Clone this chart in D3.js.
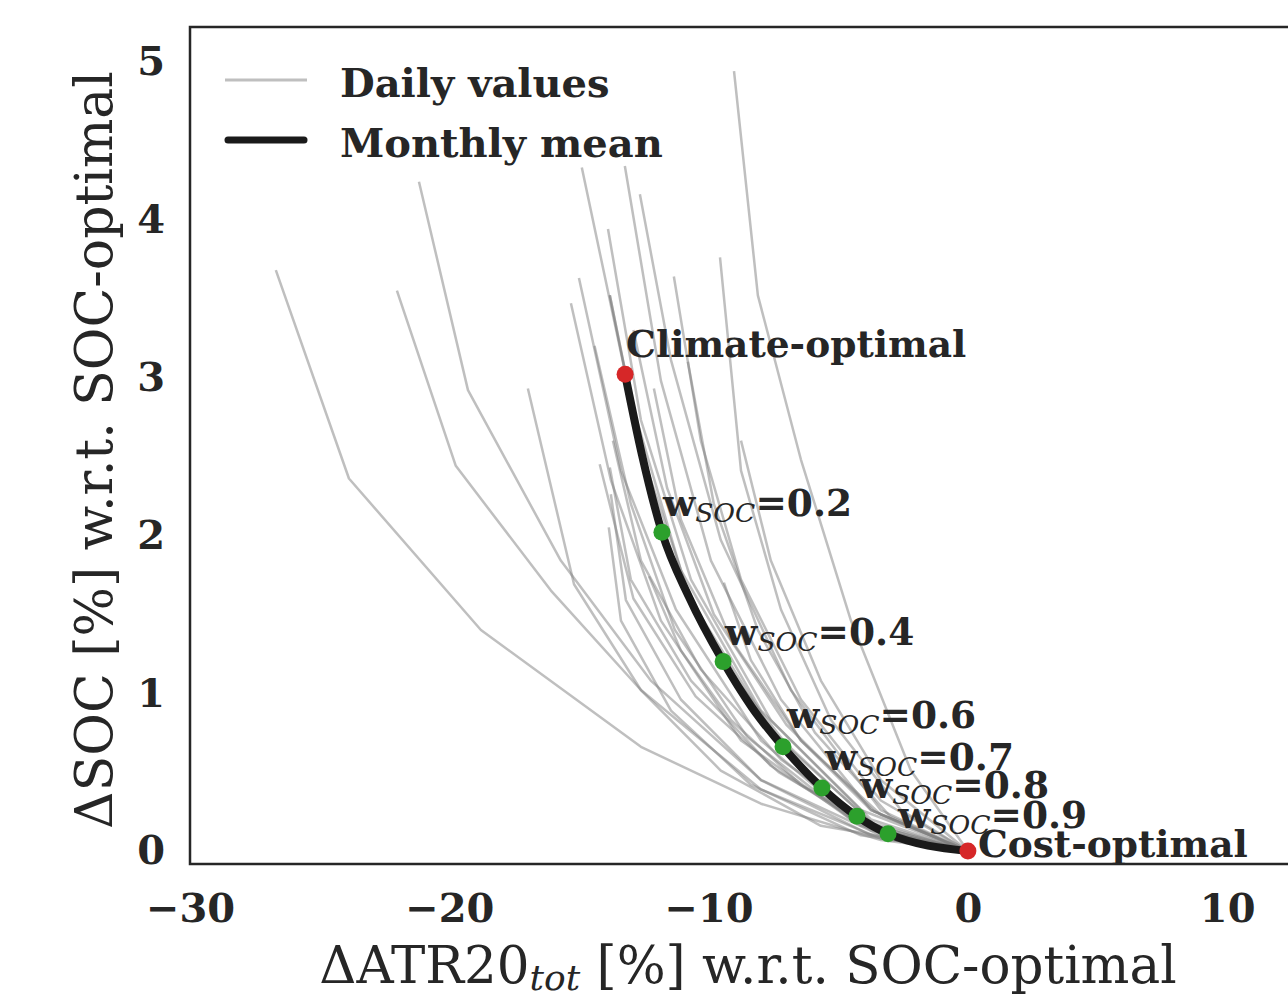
<!DOCTYPE html>
<html>
<head>
<meta charset="utf-8">
<script src="https://cdn.jsdelivr.net/npm/d3@7"></script>
<style>
  body { margin: 0; background: #fff; }
  text { fill: #262626; font-family: 'DejaVu Serif', serif; }
</style>
</head>
<body>
<div id="chart"></div>
<script>
// tick labels
const xTicks = [-30, -20, -10, 0, 10]
const yTicks = [0, 1, 2, 3, 4, 5]

// daily trade-off curves, [dATR20, dSOC] from w_SOC = 0 to 1
const dailyRuns = [
    [[-26.69, 3.68], [-23.87, 2.36], [-18.78, 1.40], [-12.61, 0.66], [-7.98, 0.30], [-3.36, 0.07], [0, 0]],
    [[-22.02, 3.55], [-19.75, 2.44], [-16.08, 1.65], [-12.61, 1.02], [-7.98, 0.39], [-3.36, 0.08], [0, 0]],
    [[-21.17, 4.24], [-19.28, 2.92], [-15.70, 1.84], [-12.23, 1.08], [-7.98, 0.45], [-3.36, 0.10], [0, 0]],
    [[-16.97, 2.93], [-15.19, 1.69], [-12.61, 1.02], [-9.53, 0.51], [-5.67, 0.16], [0, 0]],
    [[-15.31, 3.47], [-13.77, 2.35], [-11.84, 1.46], [-8.75, 0.70], [-4.51, 0.20], [0, 0]],
    [[-15.00, 3.63], [-13.38, 2.41], [-11.26, 1.53], [-7.98, 0.70], [-4.13, 0.16], [0, 0]],
    [[-14.89, 4.33], [-13.00, 2.86], [-11.07, 1.78], [-7.98, 0.89], [-4.13, 0.26], [0, 0]],
    [[-13.23, 4.34], [-11.84, 2.98], [-9.91, 1.84], [-7.21, 0.96], [-3.74, 0.26], [0, 0]],
    [[-12.65, 4.16], [-11.45, 3.11], [-9.53, 1.97], [-6.83, 1.02], [-3.36, 0.26], [0, 0]],
    [[-13.88, 3.94], [-12.61, 2.73], [-10.68, 1.72], [-7.60, 0.83], [-3.74, 0.20], [0, 0]],
    [[-13.81, 3.52], [-12.61, 2.54], [-10.68, 1.59], [-7.60, 0.77], [-3.74, 0.18], [0, 0]],
    [[-11.34, 3.64], [-10.30, 2.60], [-8.75, 1.72], [-6.44, 0.96], [-3.36, 0.32], [0, 0]],
    [[-9.56, 3.76], [-8.75, 2.41], [-7.21, 1.53], [-5.28, 0.83], [-2.58, 0.26], [0, 0]],
    [[-9.02, 4.94], [-8.10, 3.52], [-6.44, 2.48], [-4.51, 1.46], [-2.20, 0.51], [0, 0]],
    [[-8.75, 2.60], [-7.60, 1.84], [-5.67, 1.08], [-3.36, 0.45], [0, 0]],
    [[-12.11, 2.93], [-11.07, 2.10], [-9.14, 1.34], [-6.44, 0.70], [-3.36, 0.23], [0, 0]],
    [[-13.69, 2.60], [-12.61, 1.84], [-10.30, 1.15], [-7.21, 0.58], [-3.36, 0.13], [0, 0]],
    [[-13.81, 2.43], [-13.00, 1.72], [-10.68, 1.08], [-7.60, 0.54], [-3.74, 0.13], [0, 0]],
    [[-13.77, 2.26], [-13.19, 1.59], [-11.07, 0.96], [-7.98, 0.45], [-3.74, 0.10], [0, 0]],
    [[-13.85, 2.05], [-13.38, 1.46], [-11.45, 0.89], [-8.37, 0.42], [-4.13, 0.10], [0, 0]],
    [[-12.30, 1.74], [-11.07, 1.27], [-9.14, 0.83], [-6.44, 0.42], [-2.97, 0.10], [0, 0]],
    [[-9.41, 1.70], [-8.37, 1.21], [-6.44, 0.70], [-3.74, 0.26], [0, 0]],
    [[-13.81, 3.52], [-13.19, 3.02], [-11.84, 2.03], [-9.53, 1.21], [-6.83, 0.64], [-3.36, 0.13], [0, 0]],
    [[-14.40, 3.20], [-13.00, 2.20], [-11.30, 1.40], [-8.50, 0.72], [-4.50, 0.20], [0, 0]],
    [[-12.90, 3.30], [-11.60, 2.30], [-9.80, 1.50], [-7.00, 0.80], [-3.60, 0.25], [0, 0]],
    [[-14.20, 2.45], [-12.90, 1.60], [-10.50, 0.98], [-7.30, 0.50], [-3.60, 0.14], [0, 0]],
    [[-10.80, 3.10], [-9.80, 2.20], [-8.10, 1.40], [-5.90, 0.75], [-3.00, 0.22], [0, 0]]
]

// monthly mean curve
const meanW = [0, 0.1, 0.2, 0.3, 0.4, 0.5, 0.6, 0.7, 0.8, 0.9, 1.0]
const meanX = [-13.22, -12.57, -11.80, -10.76, -9.44, -8.33, -7.13, -5.63, -4.28, -3.08, 0]
const meanY = [3.02, 2.51, 2.02, 1.61, 1.20, 0.91, 0.66, 0.40, 0.22, 0.11, 0]

// highlighted points on the mean curve
const markW = [0, 0.2, 0.4, 0.6, 0.7, 0.8, 0.9, 1.0]
const markNames = ['Climate-optimal', '0.2', '0.4', '0.6', '0.7', '0.8', '0.9', 'Cost-optimal']

// label placement in pixels, same order as markW
const labelOffsets = [[1, -17], [1, -16], [2, -17], [4, -19], [3, -18], [3, -18], [10, -6], [10, 6]]

const W = 1288
const H = 1006
const margin = { top: 27, left: 190 }

let x = d3.scaleLinear().domain([-30, 13]).range([margin.left, margin.left + 43 * 25.93])
let y = d3.scaleLinear().domain([-0.082, 5.22]).range([864, 27])

let svg = d3.select('#chart').append('svg')
    .attr('width', W)
    .attr('height', H)

let line = d3.line()
    .x((d) => x(d[0]))
    .y((d) => y(d[1]))

// daily values
svg.append('g').selectAll('path')
    .data(dailyRuns)
    .enter().append('path')
    .attr('d', line)
    .attr('fill', 'none')
    .attr('stroke', '#808080')
    .attr('stroke-opacity', 0.5)
    .attr('stroke-width', 2.5)
    .attr('stroke-linejoin', 'round')

// monthly mean
let meanPts = meanX.map((v, i) => [v, meanY[i]])
svg.append('path')
    .attr('d', line.curve(d3.curveMonotoneX)(meanPts))
    .attr('fill', 'none')
    .attr('stroke', '#1a1a1a')
    .attr('stroke-width', 8)
    .attr('stroke-linecap', 'round')

let marks = markW.map((w, i) => {
    let k = meanW.indexOf(w)
    return { w: w, x: meanX[k], y: meanY[k], name: markNames[i], off: labelOffsets[i] }
})

svg.append('g').selectAll('circle')
    .data(marks)
    .enter().append('circle')
    .attr('cx', (d) => x(d.x))
    .attr('cy', (d) => y(d.y))
    .attr('r', 8.5)
    .attr('fill', (d) => (d.w === 0 || d.w === 1) ? '#d62728' : '#2ca02c')

// annotations
let ann = svg.append('g').selectAll('text')
    .data(marks)
    .enter().append('text')
    .attr('x', (d) => x(d.x) + d.off[0])
    .attr('y', (d) => y(d.y) + d.off[1])
    .attr('font-size', 37.5)
    .attr('font-weight', 'bold')

ann.each(function (d) {
    let t = d3.select(this)
    if (d.w === 0 || d.w === 1) {
        t.text(d.name)
        return
    }
    t.append('tspan').text('w')
    t.append('tspan').text('SOC')
        .attr('font-style', 'italic')
        .attr('font-weight', 'normal')
        .attr('font-size', 26.5)
        .attr('dy', 6)
    t.append('tspan').text('=' + d.name)
        .attr('dy', -6)
})

// frame
svg.append('rect')
    .attr('x', x(-30))
    .attr('y', y(5.22))
    .attr('width', x(13) - x(-30))
    .attr('height', y(-0.082) - y(5.22))
    .attr('fill', 'none')
    .attr('stroke', '#262626')
    .attr('stroke-width', 2.5)

// axes
svg.append('g')
    .attr('transform', `translate(0, ${y(-0.082)})`)
    .call(d3.axisBottom(x).tickValues(xTicks).tickSize(0).tickPadding(30)
        .tickFormat((d) => d < 0 ? '\u2212' + Math.abs(d) : d))

svg.append('g')
    .attr('transform', `translate(${x(-30)}, 0)`)
    .call(d3.axisLeft(y).tickValues(yTicks).tickSize(0).tickPadding(25)
        .tickFormat(d3.format('d')))

svg.selectAll('.domain').remove()
svg.selectAll('.tick text')
    .attr('font-family', "'DejaVu Serif', serif")
    .attr('font-size', 40)
    .attr('font-weight', 'bold')
    .attr('fill', '#262626')

// axis labels
let xl = svg.append('text')
    .attr('x', 748)
    .attr('y', 983)
    .attr('text-anchor', 'middle')
    .attr('font-size', 51.5)
xl.append('tspan').text('\u0394ATR20')
xl.append('tspan').text('tot').attr('font-style', 'italic').attr('font-size', 36).attr('dy', 7)
xl.append('tspan').text(' [%] w.r.t. SOC-optimal').attr('dy', -7)

svg.append('text')
    .attr('transform', 'translate(112, 450) rotate(-90)')
    .attr('text-anchor', 'middle')
    .attr('font-size', 52)
    .text('\u0394SOC [%] w.r.t. SOC-optimal')

// legend
let legend = svg.append('g')
legend.append('line')
    .attr('x1', 225).attr('x2', 307).attr('y1', 80).attr('y2', 80)
    .attr('stroke', '#808080').attr('stroke-opacity', 0.5).attr('stroke-width', 3)
legend.append('line')
    .attr('x1', 228).attr('x2', 304).attr('y1', 140).attr('y2', 140)
    .attr('stroke', '#1a1a1a').attr('stroke-width', 7).attr('stroke-linecap', 'round')
legend.append('text')
    .attr('x', 340).attr('y', 97)
    .attr('font-size', 40).attr('font-weight', 'bold')
    .text('Daily values')
legend.append('text')
    .attr('x', 340).attr('y', 157)
    .attr('font-size', 40).attr('font-weight', 'bold')
    .text('Monthly mean')
</script>
</body>
</html>
